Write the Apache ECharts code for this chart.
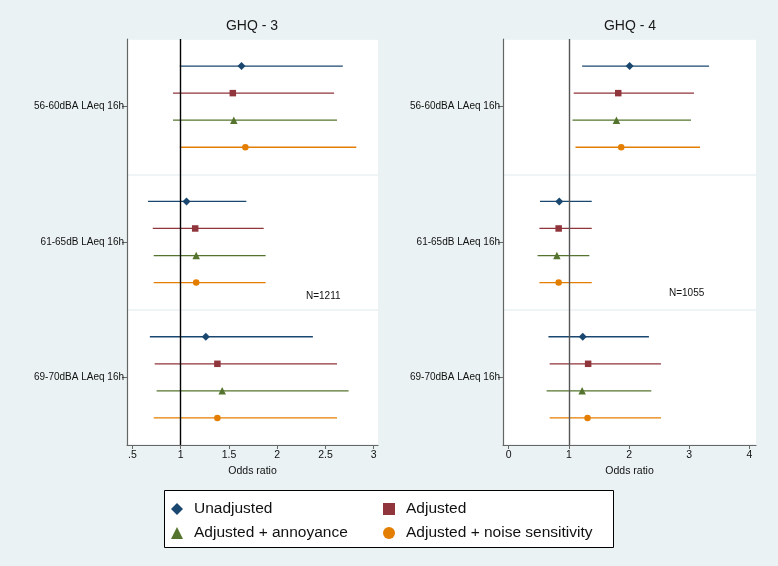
<!DOCTYPE html>
<html>
<head>
<meta charset="utf-8">
<script src="https://cdn.jsdelivr.net/npm/echarts@6/dist/echarts.min.js"></script>
<style>html,body{margin:0;padding:0;background:#EAF2F3;}#c{width:778px;height:566px;}</style>
</head>
<body>
<div id="c"></div>
<script>
// ---- data ----
const categories = ['56-60dBA LAeq 16h', '61-65dB LAeq 16h', '69-70dBA LAeq 16h'];
const modelNames = ['Unadjusted', 'Adjusted', 'Adjusted + annoyance', 'Adjusted + noise sensitivity'];
const panelTitles = ['GHQ - 3', 'GHQ - 4'];
const panelN = ['N=1211', 'N=1055'];
const ghq3Ticks = [0.5, 1, 1.5, 2, 2.5, 3];
const ghq4Ticks = [0, 1, 2, 3, 4];
// each row: [odds ratio, lower CI, upper CI] per category
const ghq3_unadjusted = [[1.63, 0.99, 2.68], [1.06, 0.66, 1.68], [1.26, 0.68, 2.37]];
const ghq3_adjusted   = [[1.54, 0.92, 2.59], [1.15, 0.71, 1.86], [1.38, 0.73, 2.62]];
const ghq3_annoyance  = [[1.55, 0.92, 2.62], [1.16, 0.72, 1.88], [1.43, 0.75, 2.74]];
const ghq3_noise      = [[1.67, 0.99, 2.82], [1.16, 0.72, 1.88], [1.38, 0.72, 2.62]];
const ghq4_unadjusted = [[2.01, 1.22, 3.33], [0.84, 0.52, 1.38], [1.23, 0.66, 2.33]];
const ghq4_adjusted   = [[1.82, 1.08, 3.08], [0.83, 0.51, 1.38], [1.32, 0.68, 2.53]];
const ghq4_annoyance  = [[1.79, 1.06, 3.03], [0.80, 0.48, 1.34], [1.22, 0.63, 2.37]];
const ghq4_noise      = [[1.87, 1.11, 3.18], [0.83, 0.51, 1.38], [1.31, 0.68, 2.53]];

// ---- style ----
const FONT = "'Liberation Sans', Arial, Helvetica, sans-serif";
const colors = ['#1A476F', '#90353B', '#55752F', '#E37E00'];
const symbols = ['diamond', 'rect', 'triangle', 'circle'];
const symbolSizes = [8, 6.5, 7.5, 6.5];
const panels = [
  {data: [ghq3_unadjusted, ghq3_adjusted, ghq3_annoyance, ghq3_noise], ticks: ghq3Ticks,
   min: 0.443, max: 3.045, refColor: '#000000', grid: {left: 127, right: 400, top: 39, bottom: 121},
   titleX: 252, nX: 324, nY: 297},
  {data: [ghq4_unadjusted, ghq4_adjusted, ghq4_annoyance, ghq4_noise], ticks: ghq4Ticks,
   min: -0.095, max: 4.11, refColor: '#555555', grid: {left: 503, right: 22, top: 39, bottom: 121},
   titleX: 630, nX: 687, nY: 294}
];

const grid = [], xAxis = [], yAxis = [], series = [], title = [], graphic = [];
panels.forEach((p, pi) => {
  grid.push(Object.assign({show: true, backgroundColor: '#ffffff', borderWidth: 0}, p.grid));
  xAxis.push({
    type: 'value', gridIndex: pi, min: p.min, max: p.max, position: 'bottom',
    splitLine: {show: false},
    axisLine: {show: true, onZero: false, lineStyle: {color: '#666', width: 1.2}},
    axisTick: {show: true, length: 4, lineStyle: {color: '#666'}, customValues: p.ticks},
    axisLabel: {color: '#111', fontSize: 10.5, fontFamily: FONT, margin: 5, customValues: p.ticks,
      formatter: v => (v > 0 && v < 1) ? String(v).replace(/^0/, '') : String(v)},
    name: 'Odds ratio', nameLocation: 'middle', nameGap: 16,
    nameTextStyle: {color: '#111', fontSize: 10.5, fontFamily: FONT}
  });
  yAxis.push({
    type: 'category', gridIndex: pi, data: categories, inverse: true, boundaryGap: true, position: 'left',
    axisLine: {show: true, onZero: false, lineStyle: {color: '#666', width: 1.2}},
    axisTick: {show: true, alignWithLabel: true, length: 5, lineStyle: {color: '#666'}},
    axisLabel: {color: '#111', fontSize: 10, fontFamily: FONT, margin: 3},
    splitLine: {show: true, lineStyle: {color: '#EAF2F3', width: 1.5}}
  });
  yAxis.push({type: 'value', gridIndex: pi, min: 0, max: 15, inverse: true, show: false,
    axisLine: {onZero: false}});
  const yIdx = pi * 2 + 1;
  p.data.forEach((rows, mi) => {
    const pts = rows.map((r, ci) => [r[0], ci * 5 + mi + 1]);
    const s = {
      type: 'scatter', name: modelNames[mi], xAxisIndex: pi, yAxisIndex: yIdx, z: 3,
      symbol: symbols[mi], symbolSize: symbolSizes[mi], data: pts,
      itemStyle: {color: colors[mi], opacity: 1}
    };
    if (mi === 0) {
      s.markLine = {silent: true, symbol: 'none', label: {show: false},
        lineStyle: {color: p.refColor, width: 1.4, type: 'solid'}, data: [{xAxis: 1}]};
    }
    series.push(s);
  });
  p.data.forEach((rows, mi) => {
    const cis = rows.map((r, ci) => [ci * 5 + mi + 1, r[1], r[2]]);
    series.push({
      type: 'custom', name: modelNames[mi], xAxisIndex: pi, yAxisIndex: yIdx, z: 2,
      encode: {x: [1, 2], y: 0}, data: cis, silent: true,
      itemStyle: {color: colors[mi]},
      renderItem: (params, api) => {
        const y = api.value(0);
        const a = api.coord([api.value(1), y]);
        const b = api.coord([api.value(2), y]);
        return {type: 'line', shape: {x1: a[0], y1: a[1], x2: b[0], y2: b[1]},
          style: {stroke: colors[mi], lineWidth: 1.3}};
      }
    });
  });
  title.push({text: panelTitles[pi], left: p.titleX, top: 19, textAlign: 'center', padding: 0,
    textStyle: {fontSize: 14, fontWeight: 'normal', color: '#1a1a1a', fontFamily: FONT}});
  graphic.push({type: 'text', left: p.nX - 18, top: p.nY - 6,
    style: {text: panelN[pi], fontSize: 10, fontFamily: FONT, fill: '#111'}});
});

graphic.push({type: 'rect', left: 164, top: 490, z: 0,
  shape: {width: 449, height: 57}, style: {fill: '#ffffff', stroke: '#000000', lineWidth: 1}});

const legendPos = [[171, 501], [383, 501], [171, 525], [383, 525]];
const legend = modelNames.map((n, i) => ({
  data: [{name: n, icon: symbols[i], itemStyle: {color: colors[i]}}],
  left: legendPos[i][0], top: legendPos[i][1],
  padding: 0, itemWidth: 12, itemHeight: 12, selectedMode: false, z: 5,
  textStyle: {fontSize: 15.5, fontFamily: FONT, color: '#111', padding: [0, 0, 0, 6]}
}));

const chart = echarts.init(document.getElementById('c'), null, {renderer: 'canvas'});
chart.setOption({
  backgroundColor: '#EAF2F3', animation: false,
  title, grid, xAxis, yAxis, series, legend, graphic
});
</script>
</body>
</html>
